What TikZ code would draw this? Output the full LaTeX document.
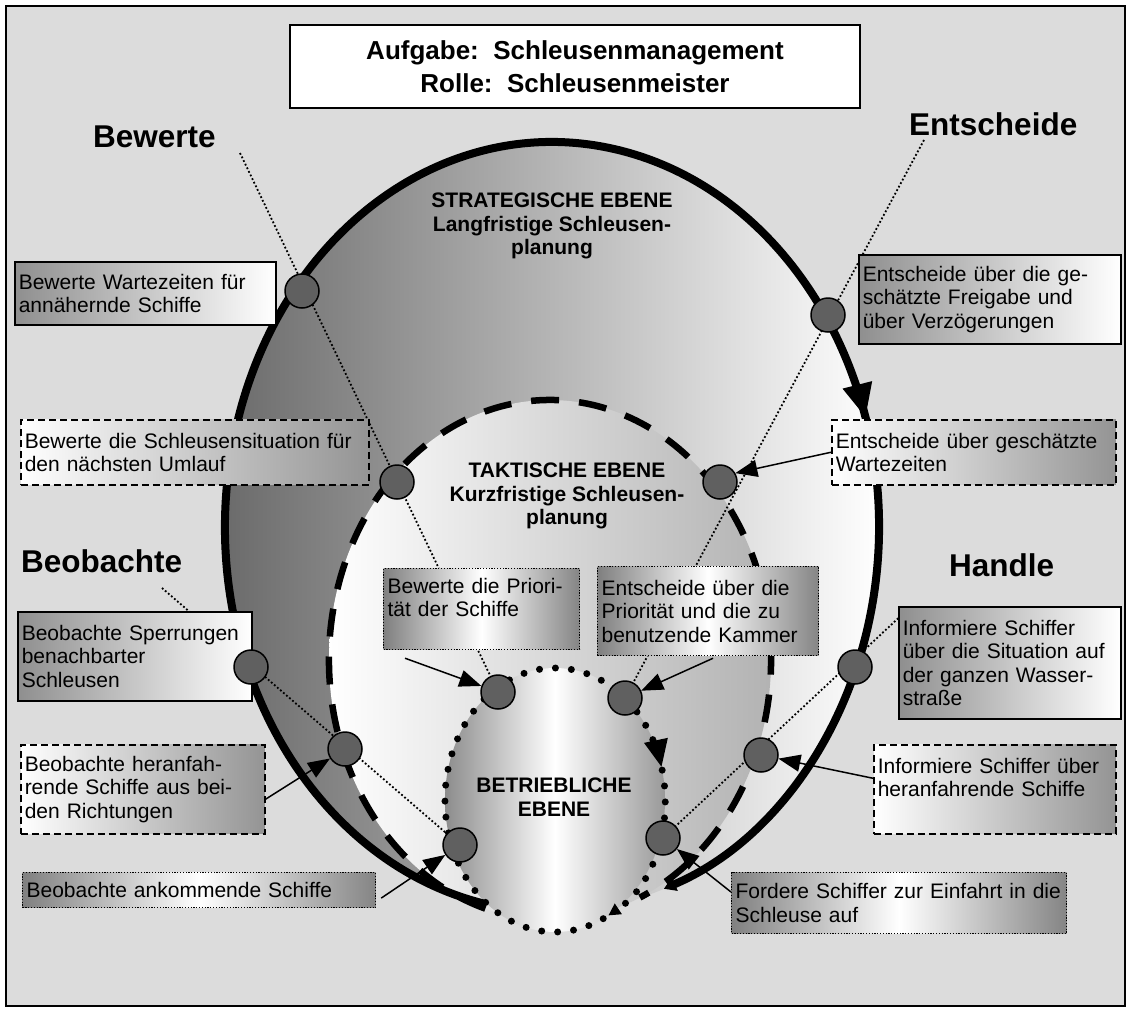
\documentclass[tikz,border=0pt]{standalone}
\usepackage{fontspec}
\setmainfont{Liberation Sans}
\usepackage{tikz}
\usetikzlibrary{arrows.meta, decorations.markings}

\definecolor{bggray}{HTML}{DCDCDC}
\definecolor{stationgray}{HTML}{606060}

\pgfdeclarelayer{fills}
\pgfdeclarelayer{lines}
\pgfsetlayers{fills,lines,main}

\begin{document}
\begin{tikzpicture}[x=1pt, y=1pt,
    textbox/.style={rectangle, anchor=north west, inner xsep=4pt, inner ysep=2pt, align=left,
        font=\fontsize{21}{23.5}\selectfont},
    solidbox/.style={textbox, draw, line width=1.5pt, left color=black!44, right color=white},
    dashbox/.style={textbox, draw, line width=1.5pt, dash pattern=on 7pt off 4pt,
        left color=white, right color=black!42},
    dotbox/.style={textbox, draw, line width=1.2pt, dash pattern=on 1.2pt off 1.6pt,
        left color=black!50, right color=black!48, middle color=white},
    station/.style={circle, draw, line width=1.5pt, fill=stationgray, minimum size=34pt, inner sep=0pt},
    pointer/.style={line width=1.5pt, -{Triangle[length=22pt, width=17pt]}},
    guide/.style={line width=1.8pt, dash pattern=on 1.8pt off 2.2pt},
    phaselabel/.style={font=\bfseries\fontsize{31.5}{36}\selectfont, anchor=base west, inner sep=0pt},
    levellabel/.style={font=\bfseries\fontsize{21}{23.5}\selectfont, align=center, anchor=north, inner sep=0pt}]
    \useasboundingbox (0,0) rectangle (1131,-1013);

    % Background and the three levels
    \begin{pgfonlayer}{fills}
        \draw[line width=2pt, fill=bggray] (6,-6) rectangle (1125,-1006);
        \shade[left color=black!58, right color=white] (552,-527) ellipse [x radius=327, y radius=385];
        \shade[left color=white, right color=black!30] (550,-660) ellipse [x radius=221, y radius=260];
        \shade[left color=black!45, right color=black!40, middle color=white] (555,-800) ellipse [x radius=110, y radius=132];
    \end{pgfonlayer}

    % Title
    \node[draw, line width=1.5pt, fill=white, minimum width=570pt, minimum height=83pt, align=center,
        font=\bfseries\fontsize{26}{33}\selectfont] (task) at (575,-66.5)
        {Aufgabe:~~Schleusenmanagement\\Rolle:~~Schleusenmeister};

    % Phases
    \node[phaselabel] (bewerte) at (93,-147) {Bewerte};
    \node[phaselabel] (entscheide) at (909,-135) {Entscheide};
    \node[phaselabel] (beobachte) at (21,-572) {Beobachte};
    \node[phaselabel] (handle) at (949,-576) {Handle};

    % Levels
    \node[levellabel] (strat) at (552,-193) {STRATEGISCHE EBENE\\Langfristige Schleusen-\\planung};
    \node[levellabel] (takt) at (567,-463) {TAKTISCHE EBENE\\Kurzfristige Schleusen-\\planung};
    \node[levellabel] (betr) at (554,-778) {BETRIEBLICHE\\EBENE};

    % Tasks
    \node[solidbox, text width=253pt, minimum height=63pt] (bewbox1) at (14,-261)
        {Bewerte Wartezeiten für\\annähernde Schiffe};
    \node[dashbox, text width=340pt, minimum height=65pt] (bewbox2) at (20,-419)
        {Bewerte die Schleusensituation für\\den nächsten Umlauf};
    \node[dotbox, text width=188pt, minimum height=81pt] (bewbox3) at (383,-568)
        {Bewerte die Priori-\\tät der Schiffe\\\mbox{}};
    \node[solidbox, text width=254pt, minimum height=89pt] (entbox1) at (858,-254)
        {Entscheide über die ge-\\schätzte Freigabe und\\über Verzögerungen};
    \node[dashbox, text width=276pt, minimum height=65pt] (entbox2) at (831,-419)
        {Entscheide über geschätzte\\Wartezeiten};
    \node[dotbox, text width=213pt, minimum height=89pt] (entbox3) at (597,-566)
        {Entscheide über die\\Priorität und die zu\\benutzende Kammer};
    \node[solidbox, text width=226pt, minimum height=89pt] (beobox1) at (17,-611)
        {Beobachte Sperrungen\\benachbarter\\Schleusen};
    \node[dashbox, text width=236pt, minimum height=89pt] (beobox2) at (20,-744)
        {Beobachte heranfah-\\rende Schiffe aus bei-\\den Richtungen};
    \node[dotbox, text width=345pt, minimum height=35pt] (beobox3) at (22,-872)
        {Beobachte ankommende Schiffe};
    \node[solidbox, text width=214pt, minimum height=112pt] (hanbox1) at (898,-606)
        {Informiere Schiffer\\über die Situation auf\\der ganzen Wasser-\\straße};
    \node[dashbox, text width=234pt, minimum height=89pt] (hanbox2) at (873,-744)
        {Informiere Schiffer über\\heranfahrende Schiffe\\\mbox{}};
    \node[dotbox, text width=327pt, minimum height=61pt] (hanbox3) at (731,-872)
        {Fordere Schiffer zur Einfahrt in die\\Schleuse auf};

    % Stations on the level borders
    \node[station] (bew1) at (302,-291) {};
    \node[station] (bew2) at (397,-482) {};
    \node[station] (bew3) at (498,-692) {};
    \node[station] (ent1) at (828,-315) {};
    \node[station] (ent2) at (720,-482) {};
    \node[station] (ent3) at (625,-698) {};
    \node[station] (beo1) at (251,-667) {};
    \node[station] (beo2) at (345,-749) {};
    \node[station] (beo3) at (460,-845) {};
    \node[station] (han1) at (855,-667) {};
    \node[station] (han2) at (761,-755) {};
    \node[station] (han3) at (663,-838) {};

    % Level borders and phase lines
    \coordinate (bewstart) at (240,-153);
    \coordinate (entstart) at (924,-140);
    \coordinate (beostart) at (162,-588);
    \coordinate (hanstart) at (907,-610);
    \begin{pgfonlayer}{lines}
        \draw[line width=8pt, -{Triangle[length=12pt, width=14pt]},
            postaction={decorate, decoration={markings,
                mark=at position 0.73 with {\arrow{Triangle[length=34pt, width=28pt]}}}}]
            (552,-527) ++(258:327 and 385) arc[start angle=258, end angle=-70, x radius=327, y radius=385];
        \draw[line width=6.5pt, dash pattern=on 28pt off 20pt]
            (550,-660) ++(253:221 and 260) arc[start angle=253, end angle=-66, x radius=221, y radius=260];
        \draw[line width=7pt, line cap=round, dash pattern=on 0pt off 16pt, -{Triangle[length=12pt, width=12pt]},
            postaction={decorate, decoration={markings,
                mark=at position 0.78 with {\arrow{Triangle[length=28pt, width=22pt]}}}}]
            (555,-800) ++(-64:110 and 132) arc[start angle=-64, end angle=-421, x radius=110, y radius=132];

        \draw[guide] (bewstart) -- (bew3);
        \draw[guide] (entstart) -- (ent3);
        \draw[guide] (beostart) -- (beo3);
        \draw[guide] (hanstart) -- (han3);
    \end{pgfonlayer}

    % Pointers from the tasks
    \draw[pointer] ([xshift=22pt, yshift=-8pt]bewbox3.south west) -- (bew3);
    \draw[pointer] (entbox2.west) -- (ent2.30);
    \draw[pointer] ([xshift=5pt, yshift=-2pt]entbox3.south) -- (ent3);
    \draw[pointer] ([yshift=-10pt]beobox2.east) -- (beo2);
    \draw[pointer] ([xshift=5pt, yshift=-8pt]beobox3.east) -- (beo3);
    \draw[pointer] ([yshift=11pt]hanbox2.west) -- (han2);
    \draw[pointer] ([yshift=-20pt]hanbox3.north west) -- (han3);
\end{tikzpicture}
\end{document}
